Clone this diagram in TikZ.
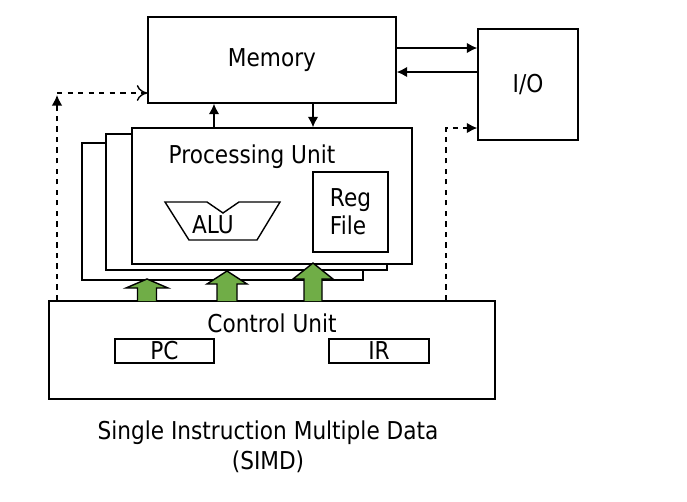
\documentclass[tikz,border=0pt]{standalone}
\usepackage{fontspec}
\setmainfont{DejaVu Sans}[FakeStretch=0.88]
\usetikzlibrary{arrows,arrows.meta,calc,positioning}

\definecolor{greenarr}{RGB}{112,173,71}
\tikzset{
  blk/.style={draw,thick,fill=white,inner sep=0pt},
  txt/.style={font=\fontsize{14}{16}\selectfont},
  dline/.style={dashed,thick},
  fat/.style={draw,thick,fill=greenarr}
}

\begin{document}
\begin{tikzpicture}[x=0.02cm,y=-0.02cm,>={Latex[length=6pt,width=6pt]}]
  \useasboundingbox (0,0) rectangle (687,501);
  % memory and I/O
  \node[blk,txt,minimum width=4.96cm,minimum height=1.72cm] (mem) at (272,60) {Memory};
  \node[blk,txt,minimum width=2cm,minimum height=2.22cm] (io) at (528,84.5) {I/O};
  % stacked processing units
  \node[blk,minimum width=5.62cm,minimum height=2.74cm] (pu3) at (222.5,211.5) {};
  \node[blk,minimum width=5.62cm,minimum height=2.72cm] (pu2) at (246.5,202) {};
  \node[blk,minimum width=5.6cm,minimum height=2.72cm] (pu) at (272,196) {};
  \node[txt] (putxt) at (252,157) {Processing Unit};
  \node[blk,txt,align=left,minimum width=1.5cm,minimum height=1.6cm] (reg) at (350.5,212) {Reg\\File};
  % ALU
  \draw[thick] (165,202) -- (207,202) -- (223,213) -- (239,202) -- (280,202)
    -- (257,240) -- (189,240) -- cycle;
  \node[txt] (alu) at (213,225) {ALU};
  % control unit
  \node[blk,minimum width=8.92cm,minimum height=1.96cm] (cu) at (272,350) {};
  \node[txt] (cutxt) at (272,323) {Control Unit};
  \node[blk,txt,minimum width=1.98cm,minimum height=0.48cm] (pc) at (164.5,351) {PC};
  \node[blk,txt,minimum width=2cm,minimum height=0.48cm] (ir) at (379,351) {IR};
  % caption
  \node[txt,align=center] (cap) at (268,447) {Single Instruction Multiple Data\\[1pt](SIMD)};
  % connectors
  \draw[thick,->] (mem.east |- 0,48) -- (io.west |- 0,48);
  \draw[thick,->] (io.west |- 0,72) -- (mem.east |- 0,72);
  \draw[thick,->] (pu.north -| 214,0) -- (mem.south -| 214,0);
  \draw[thick,->] (mem.south -| 313,0) -- (pu.north -| 313,0);
  \draw[dline,->] (cu.north -| 57,0) -- (57,95);
  \draw[dline,-{To[length=6pt,width=9pt]}] (57,93) -- (mem.west |- 0,93);
  \draw[dline,->] (cu.north -| 446,0) -- (446,128) -- (io.west |- 0,128);
  % green arrows: x, tip, head base, half head, half shaft
  \foreach \x/\t/\b/\h/\s in {147/279/288/21/9.5, 227/271/284/20/10, 313/263/279/20/9}
    \draw[fat] (\x-\s,301) -- (\x-\s,\b) -- (\x-\h,\b) -- (\x,\t) -- (\x+\h,\b)
      -- (\x+\s,\b) -- (\x+\s,301);
\end{tikzpicture}
\end{document}
